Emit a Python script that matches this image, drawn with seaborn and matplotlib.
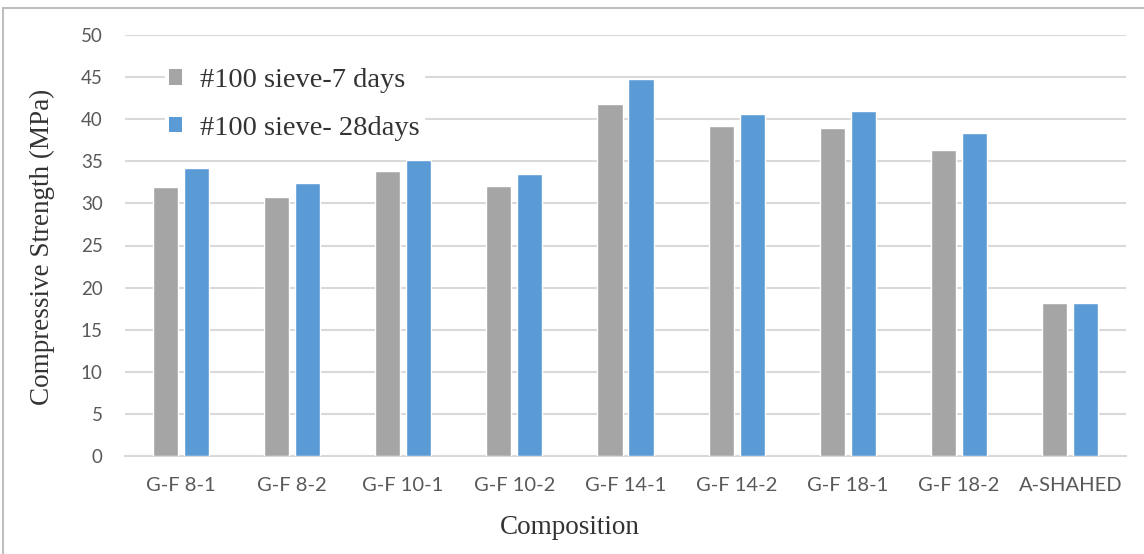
import matplotlib
matplotlib.use("Agg")
import matplotlib.pyplot as plt
import seaborn as sns
import pandas as pd
from matplotlib.patches import Rectangle

categories = ["G-F 8-1", "G-F 8-2", "G-F 10-1", "G-F 10-2", "G-F 14-1",
              "G-F 14-2", "G-F 18-1", "G-F 18-2", "A-SHAHED"]
series_names = ["#100 sieve-7 days", "#100 sieve- 28days"]
days7 = [31.9, 30.8, 33.8, 32.1, 41.8, 39.2, 38.9, 36.3, 18.2]
days28 = [34.2, 32.4, 35.2, 33.5, 44.8, 40.6, 41.0, 38.4, 18.2]
colors = ["#A5A5A5", "#5B9BD5"]

df = pd.DataFrame({
    "Composition": categories * 2,
    "Strength": days7 + days28,
    "Series": [series_names[0]] * len(categories) + [series_names[1]] * len(categories),
})

W, H = 1144, 554
sns.set_theme(style="white")
fig = plt.figure(figsize=(W / 100, H / 100), dpi=100)
ax = fig.add_axes([125 / W, 1 - 456 / H, (1126 - 125) / W, (456 - 35) / H])

sns.barplot(data=df, x="Composition", y="Strength", hue="Series",
            palette=colors, width=0.558, gap=0.19, ax=ax, saturation=1,
            errorbar=None, zorder=3, legend=False)

ax.set_ylim(0, 50)
ax.set_yticks(range(0, 51, 5))
ax.set_xlim(-0.5, len(categories) - 0.5)
ax.yaxis.grid(True, color="#D9D9D9", linewidth=1.5, zorder=0)
ax.set_axisbelow(True)
for s in ["top", "right", "left"]:
    ax.spines[s].set_visible(False)
ax.spines["bottom"].set_color("#D9D9D9")
ax.spines["bottom"].set_linewidth(1.5)
ax.tick_params(axis="both", length=0, labelcolor="#595959")
ax.tick_params(axis="x", pad=15, labelsize=14.5)
ax.tick_params(axis="y", pad=16, labelsize=13.5)
for lab in ax.get_xticklabels() + ax.get_yticklabels():
    lab.set_family(["Lato", "DejaVu Sans"])
ax.set_xlabel("")
ax.set_ylabel("")

serif = ["Liberation Serif", "DejaVu Serif"]
fig.text(570 / W, 1 - 527 / H, "Composition", family=serif, fontsize=19.5,
         color="#333333", ha="center", va="center")
fig.text(42 / W, 1 - 247 / H, "Compressive Strength (MPa)", family=serif,
         fontsize=19.5, color="#333333", ha="center", va="center", rotation=90)

handles = [Rectangle((0, 0), 1, 1, facecolor=c, edgecolor="none") for c in colors]
leg = fig.legend(handles, series_names, loc="upper left",
                 bbox_to_anchor=(165 / W, 1 - 64 / H), frameon=True,
                 prop={"family": serif, "size": 20.5}, handlelength=0.46,
                 handleheight=0.46, handletextpad=0.63, labelspacing=0.8,
                 borderpad=0.14, borderaxespad=0)
leg.get_frame().set_facecolor("white")
leg.get_frame().set_edgecolor("white")
leg.get_frame().set_alpha(1)
leg.get_frame().set_boxstyle("square", pad=0)
for t in leg.get_texts():
    t.set_color("#333333")

fig.patches.append(Rectangle((3 / W, -0.5), 2.0, 0.5 + 1 - 8 / H,
                             transform=fig.transFigure, fill=False,
                             edgecolor="#BFBFBF", linewidth=1.5))

fig.savefig("out.png", dpi=100)
